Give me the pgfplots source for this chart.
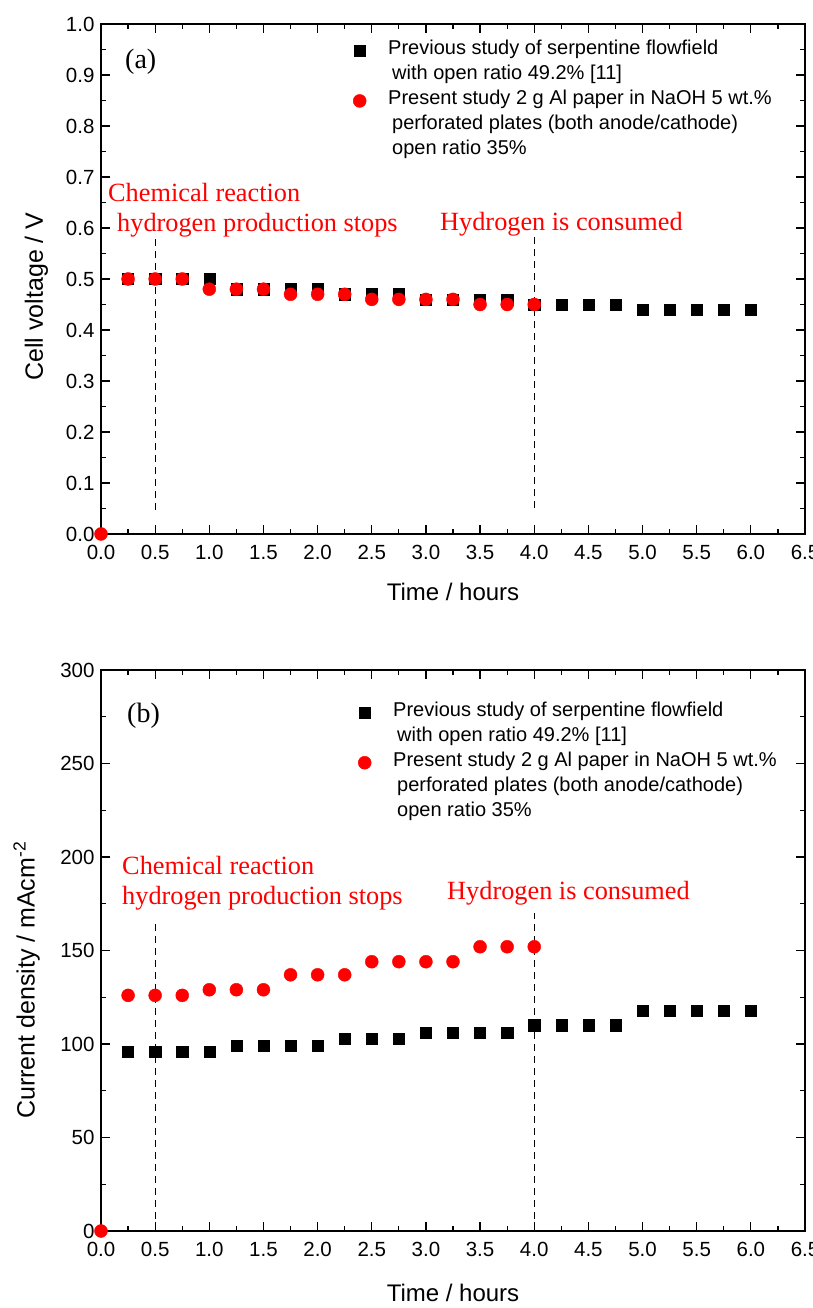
\documentclass[border=0pt]{standalone}
\usepackage{fontspec}
\setmainfont{Liberation Sans}
\newfontfamily\timesf{Liberation Serif}
\usepackage{pgfplots}
\pgfplotsset{compat=1.18}

\pgfplotstableread{
x y
0.25 0.50
0.50 0.50
0.75 0.50
1.00 0.50
1.25 0.48
1.50 0.48
1.75 0.48
2.00 0.48
2.25 0.47
2.50 0.47
2.75 0.47
3.00 0.46
3.25 0.46
3.50 0.46
3.75 0.46
4.00 0.45
4.25 0.45
4.50 0.45
4.75 0.45
5.00 0.44
5.25 0.44
5.50 0.44
5.75 0.44
6.00 0.44
}\prevV
\pgfplotstableread{
x y
0.00 0.00
0.25 0.50
0.50 0.50
0.75 0.50
1.00 0.48
1.25 0.48
1.50 0.48
1.75 0.47
2.00 0.47
2.25 0.47
2.50 0.46
2.75 0.46
3.00 0.46
3.25 0.46
3.50 0.45
3.75 0.45
4.00 0.45
}\presV
\pgfplotstableread{
x y
0.25 96
0.50 96
0.75 96
1.00 96
1.25 99
1.50 99
1.75 99
2.00 99
2.25 103
2.50 103
2.75 103
3.00 106
3.25 106
3.50 106
3.75 106
4.00 110
4.25 110
4.50 110
4.75 110
5.00 118
5.25 118
5.50 118
5.75 118
6.00 118
}\prevI
\pgfplotstableread{
x y
0.00 0
0.25 126
0.50 126
0.75 126
1.00 129
1.25 129
1.50 129
1.75 137
2.00 137
2.25 137
2.50 144
2.75 144
3.00 144
3.25 144
3.50 152
3.75 152
4.00 152
}\presI

\pgfplotsset{
 myaxis/.style={
  scale only axis, width=704pt,
  xmin=0, xmax=6.5, xtick={0,0.5,...,6.5}, minor x tick num=1,
  minor y tick num=1,
  xticklabel style={yshift=-8pt, /pgf/number format/.cd, fixed, fixed zerofill, precision=1},
  yticklabel style={xshift=-3pt},
  tick label style={font=\fontsize{20.5pt}{23pt}\selectfont},
  /pgf/number format/assume math mode=true,
  axis line style={line width=1.6pt},
  major tick length=9pt, minor tick length=5pt,
  every tick/.style={line width=1.2pt, black},
  xlabel={Time / hours},
  legend style={draw=none, fill=none, font=\fontsize{20pt}{24pt}\selectfont, legend cell align=left, row sep=0pt,
    nodes={inner sep=0pt, text height=16pt, text depth=9pt},
    /tikz/every odd column/.append style={column sep=22pt}},
  legend image code/.code={\draw[##1] plot coordinates {(0pt,0pt)};},
 },
 sq/.style={only marks, mark=square*, mark size=5.6pt, black, mark options={draw=black, fill=black}},
 ci/.style={only marks, mark=*, mark size=6.5pt, red, mark options={draw=red, fill=red}},
}
\tikzset{
 ann/.style={anchor=west, text=red, font=\timesf\fontsize{26.3pt}{30pt}\selectfont, inner sep=0pt},
 lab/.style={anchor=west, inner sep=0pt, font=\timesf\fontsize{28pt}{32pt}\selectfont},
}

\begin{document}
\begin{tikzpicture}
\useasboundingbox (0,0) rectangle (813pt,1308pt);
% top panel
\begin{axis}[myaxis, at={(101pt,774pt)}, anchor=south west, height=510pt,
  every axis x label/.style={at={(axis description cs:0.5,-0.1137)}, anchor=center, font=\fontsize{24pt}{28pt}\selectfont},
  every axis y label/.style={at={(axis description cs:-0.0916,0.4657)}, rotate=90, anchor=center, font=\fontsize{25pt}{30pt}\selectfont},
  ymin=0, ymax=1.0, ytick={0,0.1,...,1.0},
  yticklabel style={/pgf/number format/.cd, fixed, fixed zerofill, precision=1},
  ylabel={Cell voltage / V},
  legend style={at={(axis description cs:0.3537,0.976)}, anchor=north west}]
\addplot[sq] table {\prevV};
\addlegendentry{Previous study of serpentine flowfield}
\addlegendimage{empty legend}
\addlegendentry{\hspace{4pt}with open ratio 49.2\% [11]}
\addplot[ci] table {\presV};
\addlegendentry{Present study 2 g Al paper in NaOH 5 wt.\%}
\addlegendimage{empty legend}
\addlegendentry{\hspace{4pt}perforated plates (both anode/cathode)}
\addlegendimage{empty legend}
\addlegendentry{\hspace{4pt}open ratio 35\%}
\addplot[dashed, line width=1.2pt, dash pattern=on 7pt off 5pt, forget plot] coordinates {(0.5,0.047) (0.5,0.58)};
\addplot[dashed, line width=1.2pt, dash pattern=on 7pt off 5pt, forget plot] coordinates {(4.0,0.05) (4.0,0.59)};
\node[ann] at (axis cs:0.0646,0.6686) {Chemical reaction};
\node[ann] at (axis cs:0.148,0.606) {hydrogen production stops};
\node[ann] at (axis cs:3.13,0.608) {Hydrogen is consumed};
\node[lab] at (axis cs:0.2216,0.9255) {(a)};
\end{axis}
% bottom panel
\begin{axis}[myaxis, at={(101pt,77pt)}, anchor=south west, height=561pt,
  every axis x label/.style={at={(axis description cs:0.5,-0.1105)}, anchor=center, font=\fontsize{24pt}{28pt}\selectfont},
  every axis y label/.style={at={(axis description cs:-0.1058,0.447)}, rotate=90, anchor=center, font=\fontsize{25pt}{30pt}\selectfont},
  ymin=0, ymax=300, ytick={0,50,...,300},
  ylabel={Current density / mAcm\textsuperscript{-2}},
  legend style={at={(axis description cs:0.3608,0.950)}, anchor=north west}]
\addplot[sq] table {\prevI};
\addlegendentry{Previous study of serpentine flowfield}
\addlegendimage{empty legend}
\addlegendentry{\hspace{4pt}with open ratio 49.2\% [11]}
\addplot[ci] table {\presI};
\addlegendentry{Present study 2 g Al paper in NaOH 5 wt.\%}
\addlegendimage{empty legend}
\addlegendentry{\hspace{4pt}perforated plates (both anode/cathode)}
\addlegendimage{empty legend}
\addlegendentry{\hspace{4pt}open ratio 35\%}
\addplot[dashed, line width=1.2pt, dash pattern=on 7pt off 5pt, forget plot] coordinates {(0.5,0) (0.5,166)};
\addplot[dashed, line width=1.2pt, dash pattern=on 7pt off 5pt, forget plot] coordinates {(4.0,0) (4.0,170)};
\node[ann] at (axis cs:0.194,195.2) {Chemical reaction};
\node[ann] at (axis cs:0.194,178.1) {hydrogen production stops};
\node[ann] at (axis cs:3.195,180.7) {Hydrogen is consumed};
\node[lab] at (axis cs:0.240,275.4) {(b)};
\end{axis}
\end{tikzpicture}
\end{document}
